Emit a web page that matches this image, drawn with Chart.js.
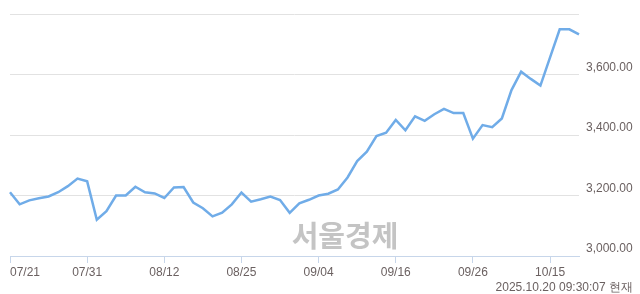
<!DOCTYPE html>
<html>
<head>
<meta charset="utf-8">
<script src="https://cdn.jsdelivr.net/npm/chart.js@4"></script>
<style>
    html, body { margin: 0; padding: 0; background: #fff; }
</style>
</head>
<body>
<canvas id="kospiChart" width="640" height="294"></canvas>
<script>
(function() {
    'use strict';

    // --- Data ---
    const dates = [
        '07/21', '07/22', '07/23', '07/24', '07/25', '07/28', '07/29', '07/30', '07/31', '08/01',
        '08/04', '08/05', '08/06', '08/07', '08/08', '08/11', '08/12', '08/13', '08/14', '08/18',
        '08/19', '08/20', '08/21', '08/22', '08/25', '08/26', '08/27', '08/28', '08/29', '09/01',
        '09/02', '09/03', '09/04', '09/05', '09/08', '09/09', '09/10', '09/11', '09/12', '09/15',
        '09/16', '09/17', '09/18', '09/19', '09/22', '09/23', '09/24', '09/25', '09/26', '09/29',
        '09/30', '10/01', '10/02', '10/10', '10/13', '10/14', '10/15', '10/16', '10/17', '10/20'
    ];
    const closeValues = [
        3211, 3171, 3184, 3191, 3197, 3211, 3231, 3256, 3247, 3120,
        3148, 3200, 3200, 3229, 3211, 3207, 3192, 3227, 3228, 3177,
        3158, 3131, 3143, 3171, 3210, 3180, 3188, 3197, 3185, 3143,
        3174, 3186, 3200, 3206, 3220, 3260, 3314, 3345, 3397, 3408,
        3450, 3416, 3462, 3447, 3469, 3487, 3473, 3473, 3388, 3433,
        3426, 3455, 3549, 3610, 3586, 3564, 3657, 3750, 3750, 3733
    ];
    const xTickLabels = ['07/21', '07/31', '08/12', '08/25', '09/04', '09/16', '09/26', '10/15'];
    const yTicks = [3000, 3200, 3400, 3600, 3800];
    const watermarkText = '서울경제';
    const stampText = '2025.10.20 09:30:07 현재';

    const textColor = '#6b6161';
    const axisColor = '#c7d6ea';
    const gridColor = '#e2e2e2';
    const lineColor = '#70ace8';
    const fontFamily = '"Liberation Sans", Arial, sans-serif';

    const lastIndex = dates.length - 1;

    function fmt(v) {
        return v.toLocaleString('en-US', { minimumFractionDigits: 2, maximumFractionDigits: 2 });
    }

    // watermark + timestamp
    const extrasPlugin = {
        id: 'extras',
        beforeDatasetsDraw(chart) {
            const ctx = chart.ctx;
            ctx.save();
            ctx.font = 'bold 29px "Noto Sans CJK KR", sans-serif';
            ctx.fillStyle = '#c4c4c4';
            ctx.textAlign = 'center';
            ctx.textBaseline = 'middle';
            ctx.fillText(watermarkText, 345, 236);
            ctx.restore();
        },
        afterDraw(chart) {
            const ctx = chart.ctx;
            ctx.save();
            ctx.font = '12px ' + fontFamily;
            ctx.fillStyle = textColor;
            ctx.textAlign = 'right';
            ctx.textBaseline = 'alphabetic';
            ctx.fillText(stampText, 633, 291);
            ctx.restore();
        }
    };

    new Chart(document.getElementById('kospiChart'), {
        type: 'line',
        data: {
            labels: dates,
            datasets: [{
                data: closeValues,
                borderColor: lineColor,
                borderWidth: 2.5,
                pointRadius: 0,
                pointHoverRadius: 0,
                tension: 0,
                fill: false
            }]
        },
        options: {
            responsive: false,
            animation: false,
            devicePixelRatio: 1,
            layout: { padding: { left: 10, top: 10, right: 0, bottom: 0 } },
            plugins: {
                legend: { display: false },
                tooltip: { enabled: false }
            },
            scales: {
                x: {
                    type: 'category',
                    offset: false,
                    afterBuildTicks(scale) {
                        // keep only the labelled dates plus the last point (blank, for alignment)
                        scale.ticks = scale.ticks.filter(t =>
                            xTickLabels.includes(dates[t.value]) || t.value === lastIndex);
                    },
                    afterFit(scale) { scale.height = 38; },
                    grid: {
                        drawOnChartArea: false,
                        drawTicks: true,
                        tickLength: 7,
                        tickColor: c => (c.tick && c.tick.value === lastIndex) ? 'rgba(0,0,0,0)' : axisColor
                    },
                    border: { display: true, color: axisColor, width: 1 },
                    ticks: {
                        autoSkip: false,
                        maxRotation: 0,
                        minRotation: 0,
                        align: 'inner',
                        padding: 2,
                        color: textColor,
                        font: { family: fontFamily, size: 12 },
                        callback(value) {
                            return value === lastIndex ? '' : dates[value];
                        }
                    }
                },
                y: {
                    position: 'right',
                    min: yTicks[0],
                    max: yTicks[yTicks.length - 1],
                    afterBuildTicks(scale) {
                        scale.ticks = yTicks.map(v => ({ value: v }));
                    },
                    afterFit(scale) { scale.width = 61; },
                    grid: {
                        drawTicks: false,
                        color: c => (c.tick && c.tick.value === yTicks[0]) ? 'rgba(0,0,0,0)' : gridColor,
                        lineWidth: 1
                    },
                    border: { display: false },
                    ticks: {
                        padding: 7,
                        color: textColor,
                        font: { family: fontFamily, size: 12 },
                        // two lines so the label sits just above its grid line
                        callback(value) {
                            return value === yTicks[yTicks.length - 1] ? '' : [fmt(value), ''];
                        }
                    }
                }
            }
        },
        plugins: [extrasPlugin]
    });
})();
</script>
</body>
</html>
